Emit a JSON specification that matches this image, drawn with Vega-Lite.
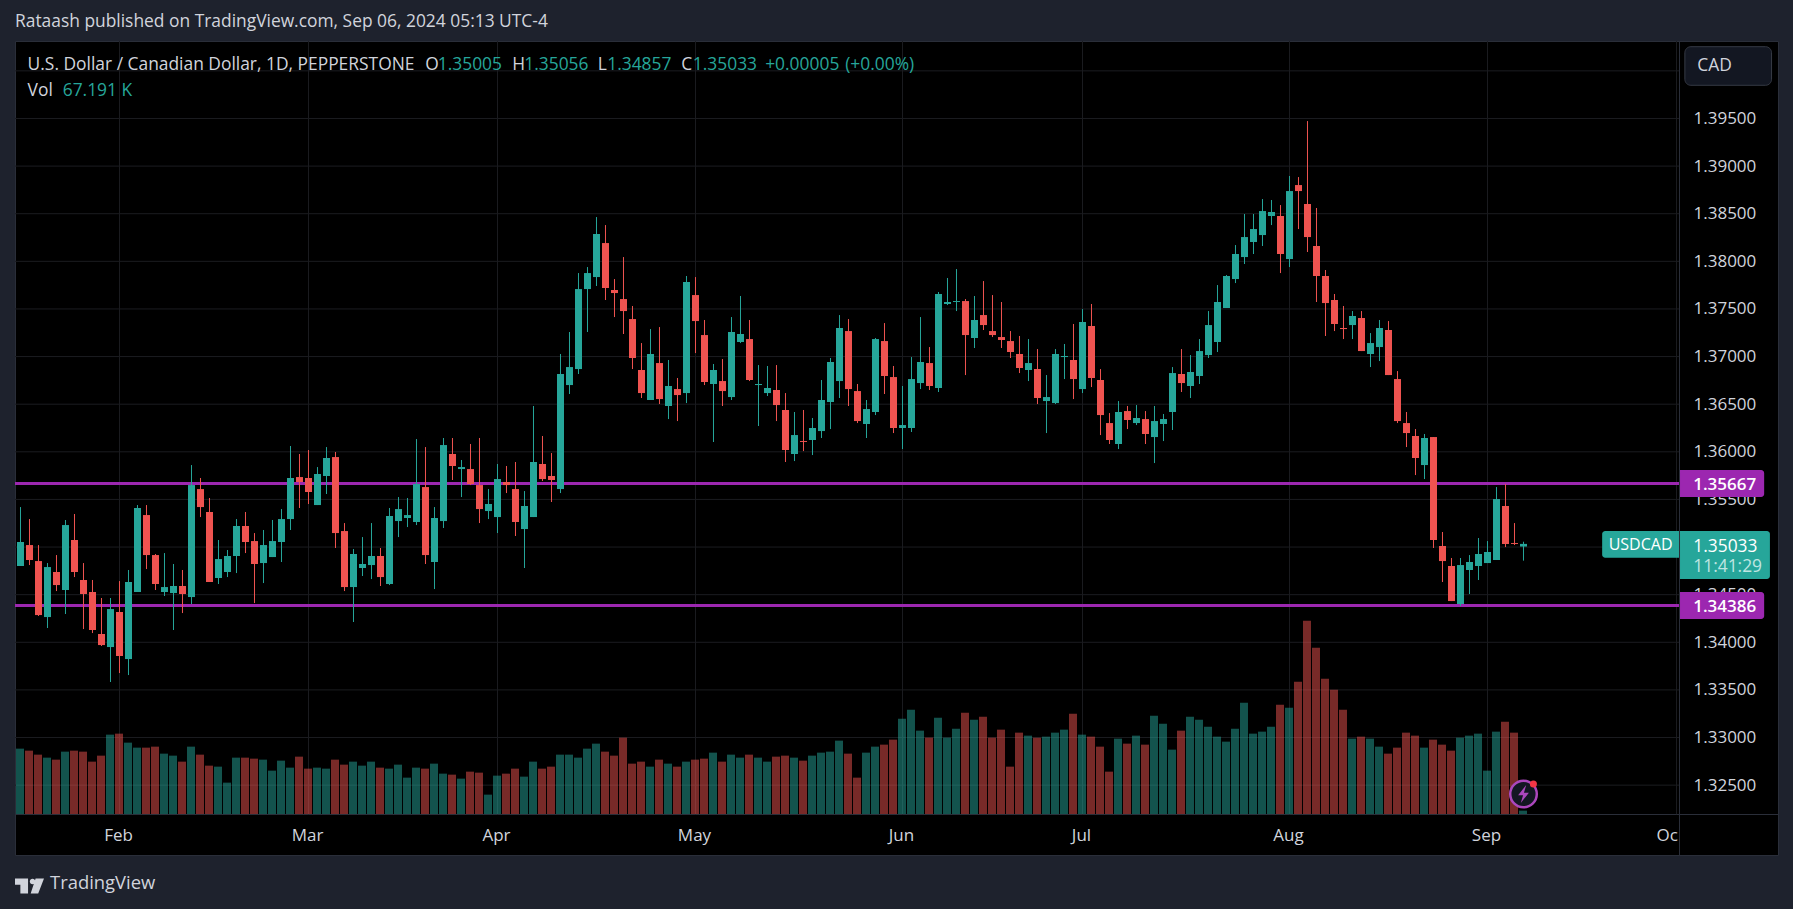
{"$schema":"https://vega.github.io/schema/vega-lite/v6.json","width":1763,"height":814,"autosize":"none","padding":{"left":15,"top":41,"right":15,"bottom":54},"background":"#1e222d","view":{"fill":"#000000","stroke":"#2a2e39"},"config":{"font":"Open Sans"},"title":{"text":"Rataash published on TradingView.com, Sep 06, 2024 05:13 UTC-4","anchor":"start","frame":"group","orient":"top","offset":10,"fontSize":17.4,"fontWeight":"normal","font":"Open Sans","color":"#d1d4dc"},
"datasets":{"bars":[
{"i":0,"o":1.34801,"h":1.3542,"l":1.34801,"c":1.35053,"v":1307},
{"i":1,"o":1.35021,"h":1.35294,"l":1.34811,"c":1.34864,"v":1267},
{"i":2,"o":1.34853,"h":1.35021,"l":1.34276,"c":1.34286,"v":1187},
{"i":3,"o":1.34265,"h":1.34832,"l":1.3415,"c":1.3479,"v":1127},
{"i":4,"o":1.34738,"h":1.34916,"l":1.34538,"c":1.34601,"v":1087},
{"i":5,"o":1.34549,"h":1.35284,"l":1.34297,"c":1.35231,"v":1247},
{"i":6,"o":1.35074,"h":1.35347,"l":1.34685,"c":1.34738,"v":1267},
{"i":7,"o":1.34654,"h":1.34832,"l":1.34139,"c":1.34507,"v":1247},
{"i":8,"o":1.34528,"h":1.34654,"l":1.34097,"c":1.34129,"v":1047},
{"i":9,"o":1.34087,"h":1.34465,"l":1.33961,"c":1.33971,"v":1167},
{"i":10,"o":1.3395,"h":1.34465,"l":1.33583,"c":1.34349,"v":1587},
{"i":11,"o":1.34318,"h":1.34643,"l":1.33677,"c":1.33856,"v":1607},
{"i":12,"o":1.33824,"h":1.34759,"l":1.33656,"c":1.34633,"v":1427},
{"i":13,"o":1.34528,"h":1.35441,"l":1.34528,"c":1.3541,"v":1327},
{"i":14,"o":1.35336,"h":1.35441,"l":1.34769,"c":1.34916,"v":1327},
{"i":15,"o":1.34916,"h":1.34927,"l":1.34549,"c":1.34612,"v":1347},
{"i":16,"o":1.34528,"h":1.34937,"l":1.34486,"c":1.3458,"v":1207},
{"i":17,"o":1.34517,"h":1.34822,"l":1.34129,"c":1.34591,"v":1167},
{"i":18,"o":1.34591,"h":1.34759,"l":1.34307,"c":1.34507,"v":1047},
{"i":19,"o":1.34475,"h":1.35861,"l":1.34402,"c":1.35651,"v":1347},
{"i":20,"o":1.35609,"h":1.35725,"l":1.35315,"c":1.3542,"v":1187},
{"i":21,"o":1.35368,"h":1.35515,"l":1.34633,"c":1.34633,"v":967},
{"i":22,"o":1.34675,"h":1.35074,"l":1.34612,"c":1.34874,"v":947},
{"i":23,"o":1.34738,"h":1.34969,"l":1.34685,"c":1.34906,"v":627},
{"i":24,"o":1.34906,"h":1.35294,"l":1.34727,"c":1.35221,"v":1127},
{"i":25,"o":1.35221,"h":1.35368,"l":1.34937,"c":1.35053,"v":1127},
{"i":26,"o":1.35063,"h":1.35147,"l":1.34412,"c":1.34822,"v":1107},
{"i":27,"o":1.34832,"h":1.35179,"l":1.34622,"c":1.35021,"v":1087},
{"i":28,"o":1.34895,"h":1.35284,"l":1.34895,"c":1.35063,"v":867},
{"i":29,"o":1.35053,"h":1.35399,"l":1.34843,"c":1.35294,"v":1067},
{"i":30,"o":1.35294,"h":1.36061,"l":1.35179,"c":1.35725,"v":927},
{"i":31,"o":1.35735,"h":1.35977,"l":1.3541,"c":1.35683,"v":1147},
{"i":32,"o":1.35725,"h":1.36019,"l":1.35452,"c":1.35578,"v":907},
{"i":33,"o":1.35441,"h":1.3584,"l":1.35441,"c":1.35767,"v":927},
{"i":34,"o":1.35746,"h":1.3605,"l":1.35557,"c":1.35935,"v":907},
{"i":35,"o":1.35945,"h":1.35998,"l":1.3499,"c":1.35147,"v":1087},
{"i":36,"o":1.35168,"h":1.35252,"l":1.34538,"c":1.3458,"v":987},
{"i":37,"o":1.3458,"h":1.34979,"l":1.34213,"c":1.34927,"v":1047},
{"i":38,"o":1.3478,"h":1.35105,"l":1.34696,"c":1.34822,"v":967},
{"i":39,"o":1.34811,"h":1.35252,"l":1.34664,"c":1.34906,"v":1047},
{"i":40,"o":1.34906,"h":1.3499,"l":1.34591,"c":1.34685,"v":927},
{"i":41,"o":1.34612,"h":1.3541,"l":1.34601,"c":1.35326,"v":907},
{"i":42,"o":1.35273,"h":1.35525,"l":1.35105,"c":1.35399,"v":987},
{"i":43,"o":1.35305,"h":1.35515,"l":1.3521,"c":1.35336,"v":727},
{"i":44,"o":1.35263,"h":1.36134,"l":1.35231,"c":1.35662,"v":927},
{"i":45,"o":1.3563,"h":1.3605,"l":1.34822,"c":1.34916,"v":907},
{"i":46,"o":1.34843,"h":1.3542,"l":1.34559,"c":1.35305,"v":1007},
{"i":47,"o":1.35273,"h":1.36145,"l":1.352,"c":1.36071,"v":807},
{"i":48,"o":1.35977,"h":1.36145,"l":1.35704,"c":1.35851,"v":787},
{"i":49,"o":1.35819,"h":1.35914,"l":1.35525,"c":1.3584,"v":707},
{"i":50,"o":1.35819,"h":1.36082,"l":1.35651,"c":1.35662,"v":847},
{"i":51,"o":1.35651,"h":1.36145,"l":1.35252,"c":1.35399,"v":827},
{"i":52,"o":1.35378,"h":1.35609,"l":1.35294,"c":1.35452,"v":387},
{"i":53,"o":1.35315,"h":1.35872,"l":1.35147,"c":1.35714,"v":767},
{"i":54,"o":1.35683,"h":1.35851,"l":1.35567,"c":1.35651,"v":807},
{"i":55,"o":1.35609,"h":1.35893,"l":1.35116,"c":1.35263,"v":907},
{"i":56,"o":1.35189,"h":1.35588,"l":1.3478,"c":1.35431,"v":747},
{"i":57,"o":1.35315,"h":1.36481,"l":1.35315,"c":1.35893,"v":1047},
{"i":58,"o":1.35872,"h":1.36166,"l":1.35693,"c":1.35714,"v":907},
{"i":59,"o":1.35746,"h":1.35987,"l":1.35473,"c":1.35704,"v":947},
{"i":60,"o":1.35609,"h":1.37027,"l":1.35567,"c":1.36817,"v":1187},
{"i":61,"o":1.36701,"h":1.37258,"l":1.36607,"c":1.3689,"v":1187},
{"i":62,"o":1.36869,"h":1.37877,"l":1.36817,"c":1.37709,"v":1127},
{"i":63,"o":1.37709,"h":1.3794,"l":1.37258,"c":1.37877,"v":1307},
{"i":64,"o":1.37835,"h":1.38465,"l":1.37741,"c":1.38287,"v":1407},
{"i":65,"o":1.38192,"h":1.38381,"l":1.37594,"c":1.3772,"v":1247},
{"i":66,"o":1.37699,"h":1.37814,"l":1.37415,"c":1.37667,"v":1167},
{"i":67,"o":1.37604,"h":1.38045,"l":1.37237,"c":1.37478,"v":1527},
{"i":68,"o":1.37394,"h":1.37531,"l":1.36869,"c":1.36985,"v":1007},
{"i":69,"o":1.36859,"h":1.37142,"l":1.36565,"c":1.36617,"v":1047},
{"i":70,"o":1.36544,"h":1.37289,"l":1.36544,"c":1.37027,"v":947},
{"i":71,"o":1.36932,"h":1.3731,"l":1.36502,"c":1.36554,"v":1087},
{"i":72,"o":1.36481,"h":1.36964,"l":1.36344,"c":1.36691,"v":1007},
{"i":73,"o":1.36659,"h":1.36775,"l":1.36323,"c":1.36596,"v":947},
{"i":74,"o":1.36617,"h":1.37846,"l":1.36512,"c":1.37783,"v":1047},
{"i":75,"o":1.37646,"h":1.37835,"l":1.37037,"c":1.37373,"v":1087},
{"i":76,"o":1.37226,"h":1.37384,"l":1.36701,"c":1.36733,"v":1107},
{"i":77,"o":1.36712,"h":1.36922,"l":1.36103,"c":1.36859,"v":1227},
{"i":78,"o":1.36743,"h":1.36974,"l":1.36481,"c":1.36638,"v":1047},
{"i":79,"o":1.36575,"h":1.37415,"l":1.36544,"c":1.37258,"v":1187},
{"i":80,"o":1.37153,"h":1.37636,"l":1.37142,"c":1.37237,"v":1127},
{"i":81,"o":1.37184,"h":1.37384,"l":1.36743,"c":1.36754,"v":1187},
{"i":82,"o":1.36701,"h":1.36911,"l":1.36271,"c":1.36712,"v":1127},
{"i":83,"o":1.36617,"h":1.36901,"l":1.36586,"c":1.3667,"v":1047},
{"i":84,"o":1.36649,"h":1.36911,"l":1.36323,"c":1.36491,"v":1147},
{"i":85,"o":1.36439,"h":1.36617,"l":1.35893,"c":1.36019,"v":1167},
{"i":86,"o":1.35977,"h":1.36418,"l":1.35903,"c":1.36176,"v":1127},
{"i":87,"o":1.36113,"h":1.36439,"l":1.36008,"c":1.36103,"v":1067},
{"i":88,"o":1.36124,"h":1.36355,"l":1.35966,"c":1.3625,"v":1167},
{"i":89,"o":1.36218,"h":1.36754,"l":1.36145,"c":1.36544,"v":1227},
{"i":90,"o":1.36523,"h":1.36985,"l":1.36239,"c":1.36943,"v":1247},
{"i":91,"o":1.36743,"h":1.37436,"l":1.36565,"c":1.373,"v":1467},
{"i":92,"o":1.37268,"h":1.37394,"l":1.36481,"c":1.36659,"v":1207},
{"i":93,"o":1.36638,"h":1.36712,"l":1.36302,"c":1.36323,"v":727},
{"i":94,"o":1.36292,"h":1.36544,"l":1.36145,"c":1.36449,"v":1227},
{"i":95,"o":1.36418,"h":1.37195,"l":1.36386,"c":1.37184,"v":1347},
{"i":96,"o":1.37163,"h":1.37352,"l":1.36607,"c":1.36796,"v":1387},
{"i":97,"o":1.36785,"h":1.36901,"l":1.36197,"c":1.3625,"v":1487},
{"i":98,"o":1.3625,"h":1.36691,"l":1.36029,"c":1.36281,"v":1907},
{"i":99,"o":1.3625,"h":1.36995,"l":1.36208,"c":1.36764,"v":2087},
{"i":100,"o":1.36722,"h":1.37415,"l":1.36659,"c":1.36943,"v":1667},
{"i":101,"o":1.36932,"h":1.371,"l":1.36649,"c":1.36691,"v":1527},
{"i":102,"o":1.3667,"h":1.37678,"l":1.36628,"c":1.37657,"v":1927},
{"i":103,"o":1.37552,"h":1.37825,"l":1.37541,"c":1.37573,"v":1527},
{"i":104,"o":1.37573,"h":1.37919,"l":1.37478,"c":1.37583,"v":1707},
{"i":105,"o":1.37583,"h":1.37604,"l":1.36806,"c":1.37226,"v":2027},
{"i":106,"o":1.37195,"h":1.37636,"l":1.3709,"c":1.37384,"v":1887},
{"i":107,"o":1.37436,"h":1.37793,"l":1.37279,"c":1.37331,"v":1947},
{"i":108,"o":1.37268,"h":1.37646,"l":1.37205,"c":1.37226,"v":1527},
{"i":109,"o":1.37205,"h":1.37573,"l":1.3709,"c":1.37174,"v":1687},
{"i":110,"o":1.37163,"h":1.37268,"l":1.36985,"c":1.37048,"v":947},
{"i":111,"o":1.37027,"h":1.37216,"l":1.36827,"c":1.3688,"v":1627},
{"i":112,"o":1.36859,"h":1.37184,"l":1.36743,"c":1.36932,"v":1567},
{"i":113,"o":1.36869,"h":1.37079,"l":1.36502,"c":1.36565,"v":1527},
{"i":114,"o":1.36533,"h":1.36806,"l":1.36197,"c":1.36575,"v":1547},
{"i":115,"o":1.36512,"h":1.37079,"l":1.36502,"c":1.37027,"v":1627},
{"i":116,"o":1.36995,"h":1.37132,"l":1.36764,"c":1.37006,"v":1687},
{"i":117,"o":1.36964,"h":1.37342,"l":1.36554,"c":1.36764,"v":2007},
{"i":118,"o":1.36659,"h":1.37499,"l":1.36617,"c":1.37363,"v":1587},
{"i":119,"o":1.37321,"h":1.37552,"l":1.3668,"c":1.36775,"v":1547},
{"i":120,"o":1.36754,"h":1.36869,"l":1.36176,"c":1.36386,"v":1347},
{"i":121,"o":1.36302,"h":1.36407,"l":1.36082,"c":1.36124,"v":847},
{"i":122,"o":1.36082,"h":1.36533,"l":1.36029,"c":1.36418,"v":1507},
{"i":123,"o":1.36428,"h":1.36481,"l":1.36239,"c":1.36334,"v":1407},
{"i":124,"o":1.36302,"h":1.36491,"l":1.36281,"c":1.36355,"v":1567},
{"i":125,"o":1.36344,"h":1.36428,"l":1.36082,"c":1.36187,"v":1387},
{"i":126,"o":1.36155,"h":1.36481,"l":1.35882,"c":1.36323,"v":1967},
{"i":127,"o":1.36292,"h":1.36397,"l":1.36113,"c":1.36344,"v":1807},
{"i":128,"o":1.36418,"h":1.3689,"l":1.36229,"c":1.36827,"v":1287},
{"i":129,"o":1.36817,"h":1.37079,"l":1.36628,"c":1.36722,"v":1667},
{"i":130,"o":1.36691,"h":1.37016,"l":1.36565,"c":1.36838,"v":1947},
{"i":131,"o":1.36796,"h":1.37184,"l":1.36712,"c":1.37058,"v":1887},
{"i":132,"o":1.37016,"h":1.37478,"l":1.36985,"c":1.37331,"v":1747},
{"i":133,"o":1.37153,"h":1.37751,"l":1.37048,"c":1.37573,"v":1547},
{"i":134,"o":1.3751,"h":1.37856,"l":1.3751,"c":1.37846,"v":1447},
{"i":135,"o":1.37814,"h":1.38171,"l":1.37772,"c":1.38077,"v":1707},
{"i":136,"o":1.38045,"h":1.38497,"l":1.37972,"c":1.38255,"v":2227},
{"i":137,"o":1.38203,"h":1.38497,"l":1.38077,"c":1.38339,"v":1607},
{"i":138,"o":1.38276,"h":1.38654,"l":1.38161,"c":1.38528,"v":1647},
{"i":139,"o":1.38476,"h":1.38644,"l":1.38381,"c":1.38518,"v":1747},
{"i":140,"o":1.38476,"h":1.38591,"l":1.37877,"c":1.38077,"v":2187},
{"i":141,"o":1.38024,"h":1.38896,"l":1.3794,"c":1.38738,"v":2127},
{"i":142,"o":1.38801,"h":1.38885,"l":1.38339,"c":1.38738,"v":2647},
{"i":143,"o":1.38602,"h":1.39473,"l":1.38098,"c":1.38255,"v":3867},
{"i":144,"o":1.38161,"h":1.3856,"l":1.37573,"c":1.37846,"v":3327},
{"i":145,"o":1.37846,"h":1.37909,"l":1.37216,"c":1.37562,"v":2707},
{"i":146,"o":1.37594,"h":1.37657,"l":1.37268,"c":1.37342,"v":2487},
{"i":147,"o":1.373,"h":1.37531,"l":1.37184,"c":1.37289,"v":2087},
{"i":148,"o":1.37331,"h":1.37478,"l":1.37184,"c":1.37426,"v":1507},
{"i":149,"o":1.37405,"h":1.37478,"l":1.37058,"c":1.37058,"v":1547},
{"i":150,"o":1.37027,"h":1.37247,"l":1.3689,"c":1.37142,"v":1507},
{"i":151,"o":1.371,"h":1.37384,"l":1.36953,"c":1.373,"v":1347},
{"i":152,"o":1.37279,"h":1.37373,"l":1.36806,"c":1.36806,"v":1207},
{"i":153,"o":1.36764,"h":1.36848,"l":1.36302,"c":1.36323,"v":1327},
{"i":154,"o":1.36302,"h":1.36418,"l":1.3605,"c":1.36197,"v":1627},
{"i":155,"o":1.36166,"h":1.36239,"l":1.35756,"c":1.35935,"v":1567},
{"i":156,"o":1.35861,"h":1.36187,"l":1.35714,"c":1.36145,"v":1327},
{"i":157,"o":1.36155,"h":1.36155,"l":1.3499,"c":1.35074,"v":1487},
{"i":158,"o":1.35011,"h":1.35158,"l":1.34633,"c":1.34853,"v":1387},
{"i":159,"o":1.34801,"h":1.34885,"l":1.34433,"c":1.34433,"v":1267},
{"i":160,"o":1.34402,"h":1.34885,"l":1.34381,"c":1.34811,"v":1527},
{"i":161,"o":1.34759,"h":1.34916,"l":1.34507,"c":1.34843,"v":1567},
{"i":162,"o":1.34801,"h":1.35095,"l":1.34654,"c":1.34927,"v":1607},
{"i":163,"o":1.34832,"h":1.35063,"l":1.34832,"c":1.34948,"v":867},
{"i":164,"o":1.34864,"h":1.3563,"l":1.34864,"c":1.35504,"v":1647},
{"i":165,"o":1.35431,"h":1.35662,"l":1.35,"c":1.35032,"v":1847},
{"i":166,"o":1.35042,"h":1.35252,"l":1.35021,"c":1.35032,"v":1627},
{"i":167,"o":1.35005,"h":1.35056,"l":1.34857,"c":1.35033,"v":67.191}
],
"gridPrices":[{"p":1.325},{"p":1.33},{"p":1.335},{"p":1.34},{"p":1.345},{"p":1.35},{"p":1.355},{"p":1.36},{"p":1.365},{"p":1.37},{"p":1.375},{"p":1.38},{"p":1.385},{"p":1.39},{"p":1.395},{"p":1.4}],
"months":[{"i":11},{"i":32},{"i":53},{"i":75},{"i":98},{"i":118},{"i":141},{"i":163},{"i":184}],
"levels":[{"level":1.35667},{"level":1.34386}],
"tagRects":[{"a":184.39,"b":193.74,"top":1.35808,"bot":1.35526,"k":"level"},{"a":184.39,"b":193.74,"top":1.34527,"bot":1.34245,"k":"level"},{"a":184.39,"b":194.38,"top":1.351685,"bot":1.346645,"k":"last"}],
"legendText":[
{"t":"U.S. Dollar / Canadian Dollar, 1D, PEPPERSTONE","i":0.79,"p":1.40062,"k":"label"},
{"t":"O","i":44.97,"p":1.40062,"k":"label"},
{"t":"1.35005","i":46.36,"p":1.40062,"k":"value"},
{"t":"H","i":54.63,"p":1.40062,"k":"label"},
{"t":"1.35056","i":55.97,"p":1.40062,"k":"value"},
{"t":"L","i":64.14,"p":1.40062,"k":"label"},
{"t":"1.34857","i":65.19,"p":1.40062,"k":"value"},
{"t":"C","i":73.41,"p":1.40062,"k":"label"},
{"t":"1.35033","i":74.7,"p":1.40062,"k":"value"},
{"t":"+0.00005","i":82.74,"p":1.40062,"k":"value"},
{"t":"(+0.00%)","i":91.63,"p":1.40062,"k":"value"},
{"t":"Vol","i":0.79,"p":1.397835,"k":"label"},
{"t":"67.191 K","i":4.69,"p":1.397835,"k":"value"},
{"t":"CAD","i":186.3,"p":1.40051,"k":"label"},
{"t":"1.35033","i":185.86,"p":1.350055,"k":"white"},
{"t":"11:41:29","i":185.86,"p":1.347955,"k":"dim"}
]},
"layer":[
{"data":{"name":"gridPrices"},"mark":{"type":"rule","color":"#1b1c20","strokeWidth":1},"encoding":{"y":{"field":"p","type":"quantitative","scale":{"domain":[1.317665,1.403135],"zero":false,"nice":false},"axis":{"orient":"right","offset":-99,"values":[1.325,1.33,1.335,1.34,1.345,1.35,1.355,1.36,1.365,1.37,1.375,1.38,1.385,1.39,1.395],"format":".5f","title":null,"ticks":false,"grid":false,"domain":true,"domainColor":"#2a2e39","labelColor":"#d1d4dc","labelFont":"Open Sans","labelFontSize":17,"labelPadding":14,"labelAlign":"left","labelOverlap":false,"labelBound":false}},"x":{"datum":-0.6111,"type":"quantitative","scale":{"domain":[-0.6111,195.2778],"zero":false,"nice":false,"padding":0},"axis":{"orient":"bottom","offset":-41,"values":[11,32,53,75,98,118,141,163,183.08],"labelExpr":"datum.value==11?'Feb':datum.value==32?'Mar':datum.value==53?'Apr':datum.value==75?'May':datum.value==98?'Jun':datum.value==118?'Jul':datum.value==141?'Aug':datum.value==163?'Sep':'Oc'","title":null,"ticks":false,"grid":false,"domain":true,"domainColor":"#2a2e39","labelColor":"#d1d4dc","labelFont":"Open Sans","labelFontSize":17,"labelPadding":13.5,"labelOffset":-1.5,"labelOverlap":false,"labelFlush":false}},"x2":{"datum":184.28}}},
{"data":{"name":"months"},"mark":{"type":"rule","color":"#1b1c20","strokeWidth":1},"encoding":{"x":{"field":"i","type":"quantitative","scale":{"domain":[-0.6111,195.2778],"zero":false,"nice":false,"padding":0}},"y":{"datum":1.40313,"type":"quantitative","scale":{"domain":[1.317665,1.403135],"zero":false,"nice":false},"axis":null},"y2":{"datum":1.32194}}},
{"data":{"name":"bars"},"mark":{"type":"bar","size":8,"orient":"vertical","opacity":0.5,"xOffset":-0.5},"encoding":{"x":{"field":"i","type":"quantitative","scale":{"domain":[-0.6111,195.2778],"zero":false,"nice":false,"padding":0}},"y":{"field":"v","type":"quantitative","scale":{"domain":[-820,15460],"zero":false,"nice":false},"axis":null},"y2":{"datum":0},"color":{"condition":{"test":"datum.c>=datum.o","value":"#26a69a"},"value":"#ef5350"}}},
{"data":{"name":"levels"},"mark":{"type":"rule","color":"#9c27b0","strokeWidth":3},"encoding":{"y":{"field":"level","type":"quantitative","scale":{"domain":[1.317665,1.403135],"zero":false,"nice":false},"axis":null},"x":{"datum":-0.6111,"type":"quantitative","scale":{"domain":[-0.6111,195.2778],"zero":false,"nice":false,"padding":0}},"x2":{"datum":184.28}}},
{"data":{"name":"bars"},"mark":{"type":"rule","strokeWidth":1},"encoding":{"x":{"field":"i","type":"quantitative","scale":{"domain":[-0.6111,195.2778],"zero":false,"nice":false,"padding":0}},"y":{"field":"l","type":"quantitative","scale":{"domain":[1.317665,1.403135],"zero":false,"nice":false},"axis":null},"y2":{"field":"h"},"color":{"condition":{"test":"datum.c>=datum.o","value":"#26a69a"},"value":"#ef5350"}}},
{"data":{"name":"bars"},"mark":{"type":"bar","size":7,"orient":"vertical"},"encoding":{"x":{"field":"i","type":"quantitative","scale":{"domain":[-0.6111,195.2778],"zero":false,"nice":false,"padding":0}},"y":{"field":"o","type":"quantitative","scale":{"domain":[1.317665,1.403135],"zero":false,"nice":false},"axis":null},"y2":{"field":"c"},"color":{"condition":{"test":"datum.c>=datum.o","value":"#26a69a"},"value":"#ef5350"}}},
{"data":{"name":"tagRects"},"mark":{"type":"rect","cornerRadiusTopRight":3,"cornerRadiusBottomRight":3},"encoding":{"x":{"field":"a","type":"quantitative","scale":{"domain":[-0.6111,195.2778],"zero":false,"nice":false,"padding":0}},"x2":{"field":"b"},"y":{"field":"top","type":"quantitative","scale":{"domain":[1.317665,1.403135],"zero":false,"nice":false},"axis":null},"y2":{"field":"bot"},"color":{"field":"k","type":"nominal","legend":null,"scale":{"domain":["level","last"],"range":["#9c27b0","#26a69a"]}}}},
{"data":{"values":[{"a":175.74,"b":184.28,"top":1.351685,"bot":1.348881}]},"mark":{"type":"rect","color":"#26a69a","cornerRadiusTopLeft":3,"cornerRadiusBottomLeft":3},"encoding":{"x":{"field":"a","type":"quantitative","scale":{"domain":[-0.6111,195.2778],"zero":false,"nice":false,"padding":0}},"x2":{"field":"b"},"y":{"field":"top","type":"quantitative","scale":{"domain":[1.317665,1.403135],"zero":false,"nice":false},"axis":null},"y2":{"field":"bot"}}},
{"data":{"values":[{"a":184.93,"b":194.56,"top":1.402537,"bot":1.398484}]},"mark":{"type":"rect","fill":"#131722","stroke":"#363a45","strokeWidth":1,"cornerRadius":6},"encoding":{"x":{"field":"a","type":"quantitative","scale":{"domain":[-0.6111,195.2778],"zero":false,"nice":false,"padding":0}},"x2":{"field":"b"},"y":{"field":"top","type":"quantitative","scale":{"domain":[1.317665,1.403135],"zero":false,"nice":false},"axis":null},"y2":{"field":"bot"}}},
{"data":{"name":"levels"},"mark":{"type":"text","align":"left","baseline":"middle","color":"#ffffff","font":"Open Sans","fontSize":17,"fontWeight":600,"dy":1},"encoding":{"x":{"datum":185.86,"type":"quantitative","scale":{"domain":[-0.6111,195.2778],"zero":false,"nice":false,"padding":0}},"y":{"field":"level","type":"quantitative","scale":{"domain":[1.317665,1.403135],"zero":false,"nice":false},"axis":null},"text":{"field":"level","type":"quantitative","format":".5f"}}},
{"data":{"values":[{"t":"USDCAD","i":180.01,"p":1.35022}]},"mark":{"type":"text","align":"center","baseline":"middle","color":"#ffffff","font":"Open Sans","fontSize":16},"encoding":{"x":{"field":"i","type":"quantitative","scale":{"domain":[-0.6111,195.2778],"zero":false,"nice":false,"padding":0}},"y":{"field":"p","type":"quantitative","scale":{"domain":[1.317665,1.403135],"zero":false,"nice":false},"axis":null},"text":{"field":"t"}}},
{"data":{"name":"legendText"},"mark":{"type":"text","align":"left","baseline":"middle","font":"Open Sans","fontSize":17.4},"encoding":{"x":{"field":"i","type":"quantitative","scale":{"domain":[-0.6111,195.2778],"zero":false,"nice":false,"padding":0}},"y":{"field":"p","type":"quantitative","scale":{"domain":[1.317665,1.403135],"zero":false,"nice":false},"axis":null},"text":{"field":"t"},"color":{"field":"k","type":"nominal","legend":null,"scale":{"domain":["label","value","white","dim"],"range":["#d1d4dc","#26a69a","#ffffff","#bfe5e1"]}}}},
{"data":{"values":[{"t":"TradingView","i":3.28,"p":1.314725}]},"mark":{"type":"text","align":"left","baseline":"middle","font":"Open Sans","fontSize":18.4,"color":"#d1d4dc"},"encoding":{"x":{"field":"i","type":"quantitative","scale":{"domain":[-0.6111,195.2778],"zero":false,"nice":false,"padding":0}},"y":{"field":"p","type":"quantitative","scale":{"domain":[1.317665,1.403135],"zero":false,"nice":false},"axis":null},"text":{"field":"t"}}},
{"data":{"values":[{"i":1.0,"p":1.3144}]},"mark":{"type":"point","filled":true,"opacity":1,"size":841,"color":"#d1d4dc","shape":"M-1,-0.517 L-0.1,-0.517 L-0.1,0.517 L-0.63,0.517 L-0.63,-0.1 L-1,-0.1 Z M0.02,-0.31 A0.19,0.19 0 1 1 0.4,-0.31 A0.19,0.19 0 1 1 0.02,-0.31 Z M0.42,-0.517 L1,-0.517 L0.6,0.517 L0.08,0.517 Z"},"encoding":{"x":{"field":"i","type":"quantitative","scale":{"domain":[-0.6111,195.2778],"zero":false,"nice":false,"padding":0}},"y":{"field":"p","type":"quantitative","scale":{"domain":[1.317665,1.403135],"zero":false,"nice":false},"axis":null}}},
{"data":{"values":[{"i":167.0,"p":1.32407}]},"mark":{"type":"point","filled":true,"opacity":1,"shape":"circle","size":707,"fill":"#131722","stroke":"#ab47bc","strokeWidth":2.5},"encoding":{"x":{"field":"i","type":"quantitative","scale":{"domain":[-0.6111,195.2778],"zero":false,"nice":false,"padding":0}},"y":{"field":"p","type":"quantitative","scale":{"domain":[1.317665,1.403135],"zero":false,"nice":false},"axis":null}}},
{"data":{"values":[{"i":167.0,"p":1.32407}]},"mark":{"type":"point","filled":true,"opacity":1,"size":324,"color":"#ab47bc","shape":"M0.3,-1 L-0.6,0.15 L-0.05,0.15 L-0.3,1 L0.6,-0.15 L0.05,-0.15 Z"},"encoding":{"x":{"field":"i","type":"quantitative","scale":{"domain":[-0.6111,195.2778],"zero":false,"nice":false,"padding":0}},"y":{"field":"p","type":"quantitative","scale":{"domain":[1.317665,1.403135],"zero":false,"nice":false},"axis":null}}},
{"data":{"values":[{"i":168.1,"p":1.32512}]},"mark":{"type":"point","filled":true,"opacity":1,"shape":"circle","size":50,"color":"#f23645"},"encoding":{"x":{"field":"i","type":"quantitative","scale":{"domain":[-0.6111,195.2778],"zero":false,"nice":false,"padding":0}},"y":{"field":"p","type":"quantitative","scale":{"domain":[1.317665,1.403135],"zero":false,"nice":false},"axis":null}}}
],
"resolve":{"scale":{"y":"independent","color":"independent"}}}
